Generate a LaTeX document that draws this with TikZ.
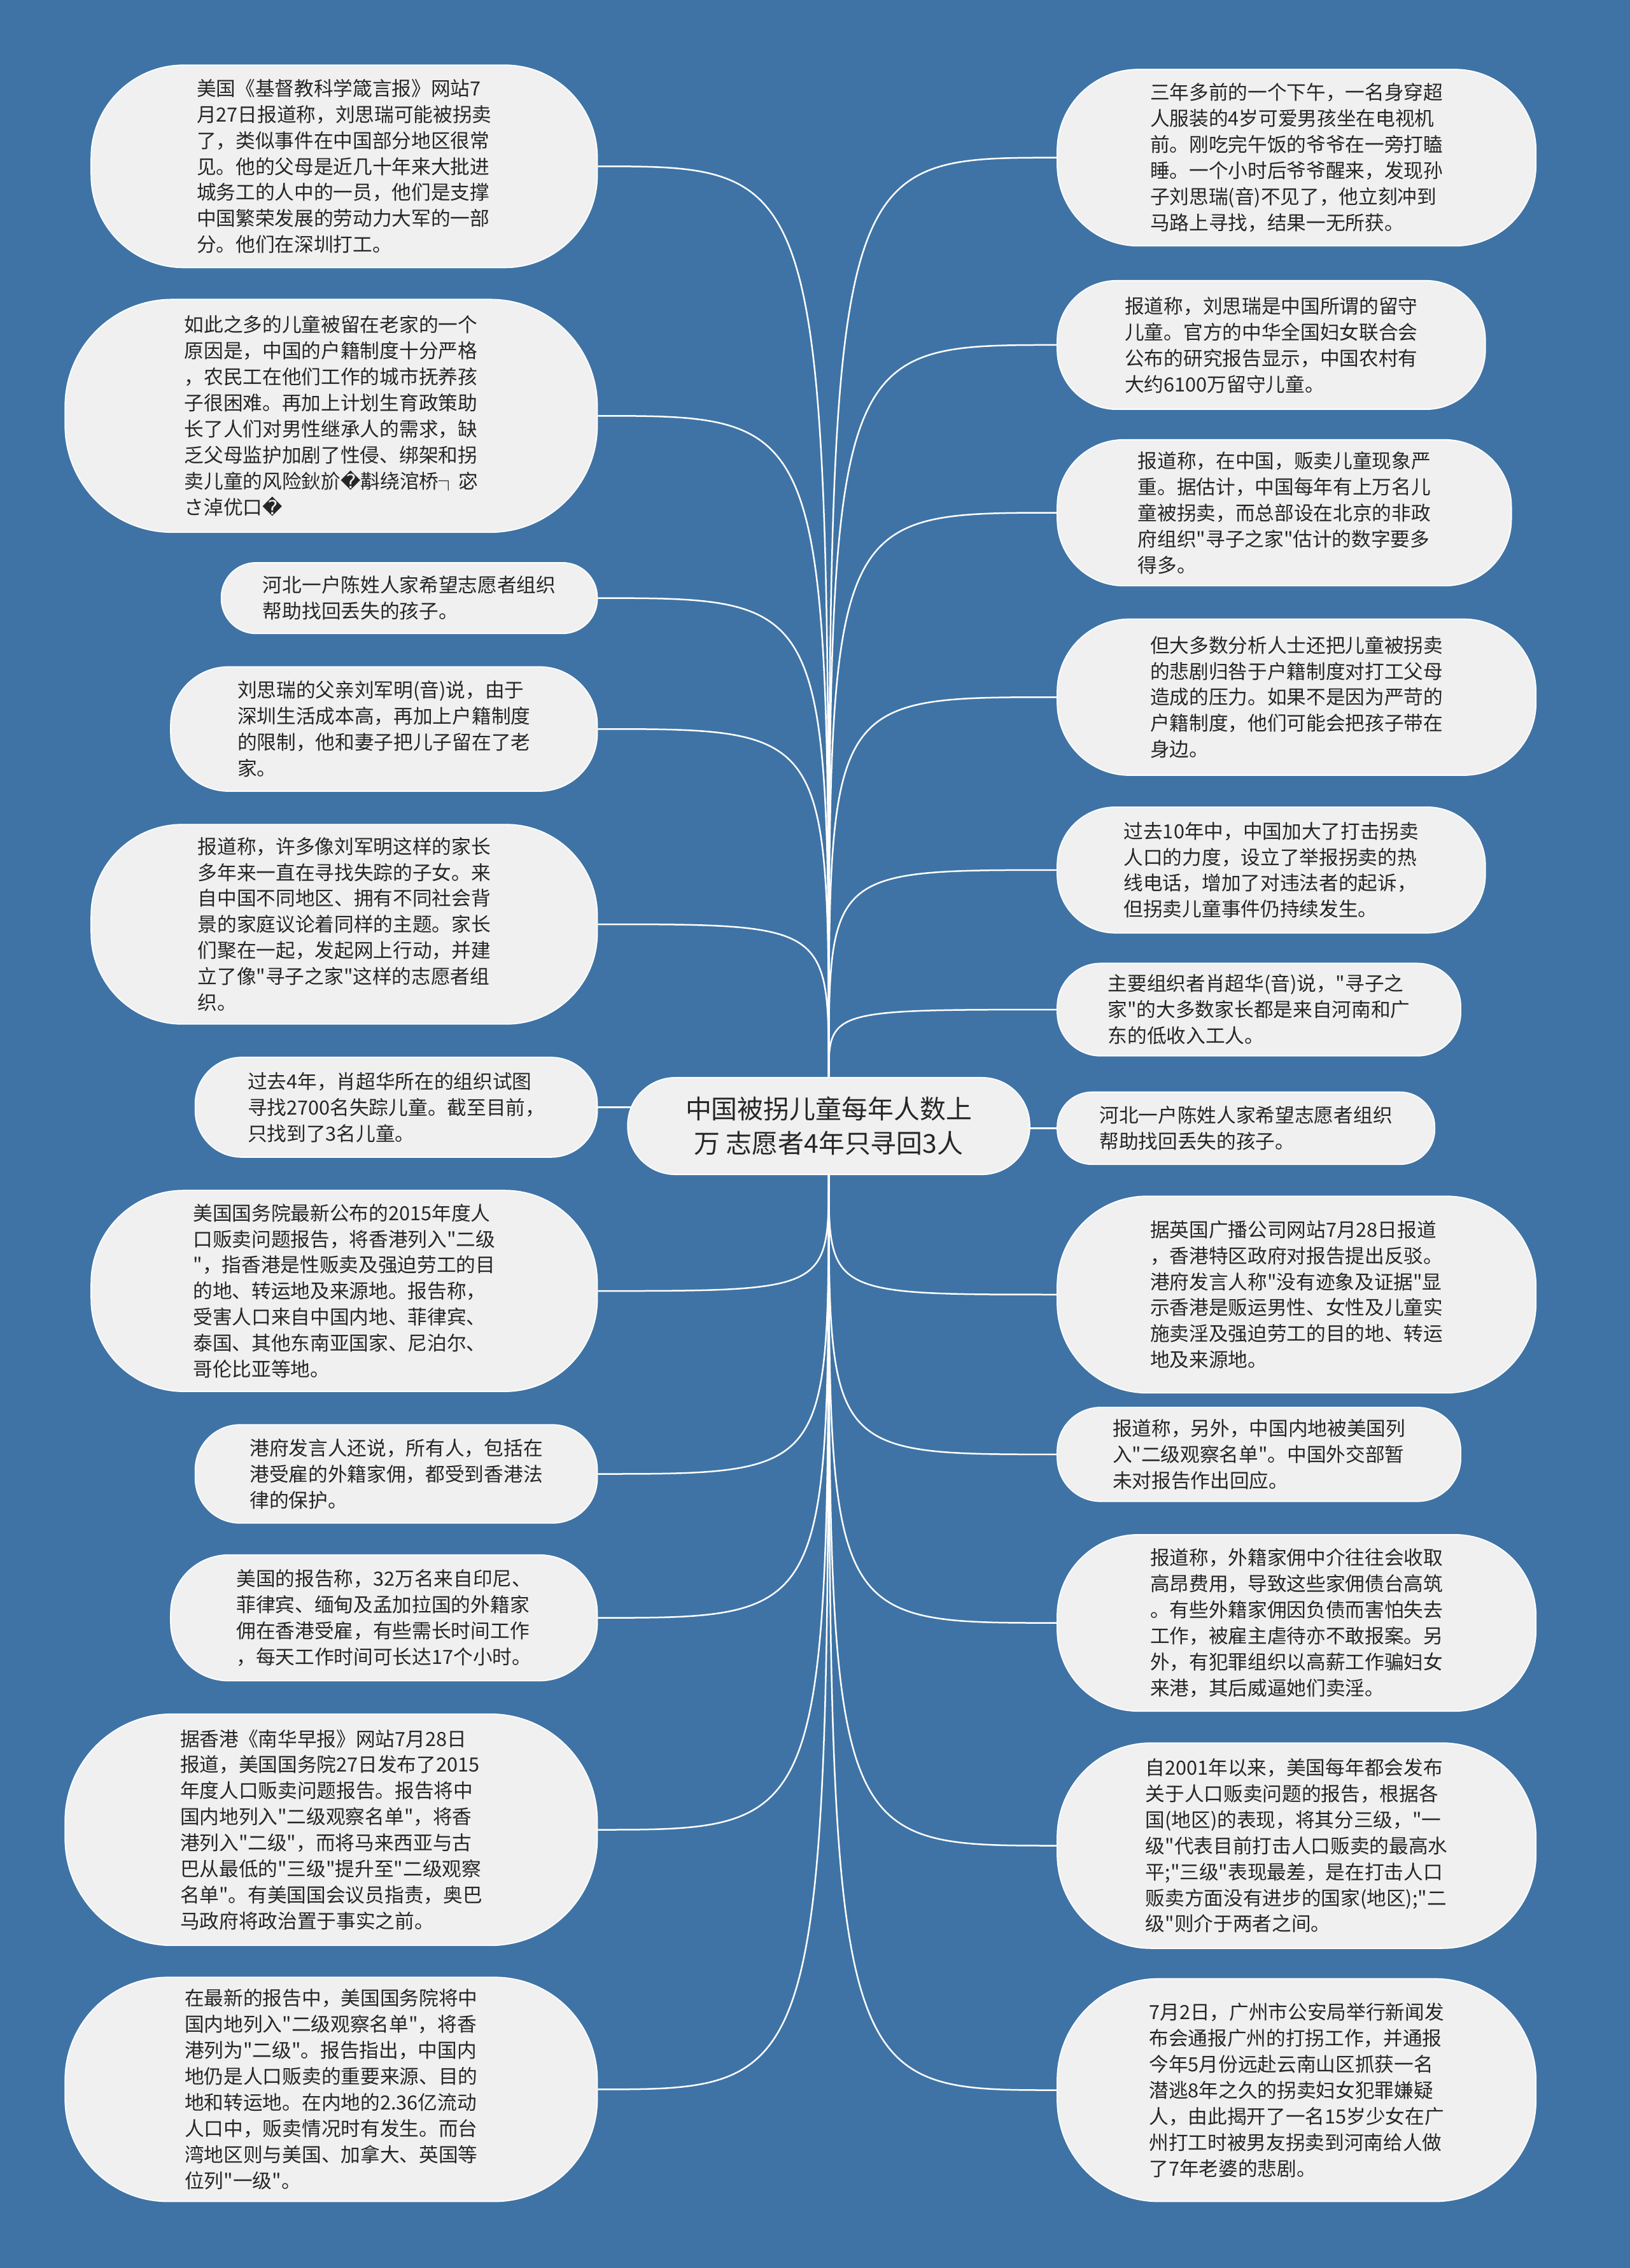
\documentclass[tikz,border=0pt]{standalone}
\usepackage{fontspec}
\newfontfamily\cjk{Noto Sans CJK SC}
\newfontfamily\dvs{DejaVu Sans}
\definecolor{mapBg}{RGB}{63,115,165}
\definecolor{mapLeaf}{RGB}{240,240,240}
\definecolor{mapInk}{RGB}{38,38,38}
\pgfdeclarelayer{back}
\pgfdeclarelayer{wires}
\pgfsetlayers{back,wires,main}

\begin{document}
\begin{tikzpicture}[x=1pt,y=-1pt,
  leaf/.style={rectangle,fill=mapLeaf,draw=white,line width=0.8pt,inner sep=0pt,align=left,text=mapInk,font=\cjk\fontsize{13.5}{18}\selectfont},
  hub/.style={leaf,align=center,font=\cjk\fontsize{18}{23.5}\selectfont},
  wire/.style={white,line width=1.1pt}]
% page: one unit = one pixel of the shrunk view
\begin{pgfonlayer}{back}
\fill[mapBg] (0,0) rectangle (1127,1568);
\end{pgfonlayer}
\useasboundingbox (0,0) rectangle (1127,1568);

% central topic
\node[hub,minimum width=278,minimum height=67,rounded corners=33] (hub) at (573,778.5) {中国被拐儿童每年人数上\\万 志愿者4年只寻回3人};

% left column
\node[leaf,minimum width=350,minimum height=140,rounded corners=64] (L1) at (238,115) {美国《基督教科学箴言报》网站7\\月27日报道称，刘思瑞可能被拐卖\\了，类似事件在中国部分地区很常\\见。他的父母是近几十年来大批进\\城务工的人中的一员，他们是支撑\\中国繁荣发展的劳动力大军的一部\\分。他们在深圳打工。};
\node[leaf,minimum width=368,minimum height=161,rounded corners=74] (L2) at (229,287.5) {如此之多的儿童被留在老家的一个\\原因是，中国的户籍制度十分严格\\，农民工在他们工作的城市抚养孩\\子很困难。再加上计划生育政策助\\长了人们对男性继承人的需求，缺\\乏父母监护加剧了性侵、绑架和拐\\卖儿童的风险鈥斺{\dvs �}斠绕涫桥┐宓\\さ淖优口{\dvs �}};
\node[leaf,minimum width=260,minimum height=49,rounded corners=24] (L3) at (283,413.5) {河北一户陈姓人家希望志愿者组织\\帮助找回丢失的孩子。};
\node[leaf,minimum width=295,minimum height=86,rounded corners=40] (L4) at (265.5,504) {刘思瑞的父亲刘军明(音)说，由于\\深圳生活成本高，再加上户籍制度\\的限制，他和妻子把儿子留在了老\\家。};
\node[leaf,minimum width=350,minimum height=138,rounded corners=63] (L5) at (238,639) {报道称，许多像刘军明这样的家长\\多年来一直在寻找失踪的子女。来\\自中国不同地区、拥有不同社会背\\景的家庭议论着同样的主题。家长\\们聚在一起，发起网上行动，并建\\立了像"寻子之家"这样的志愿者组\\织。};
\node[leaf,minimum width=278,minimum height=69,rounded corners=32] (L6) at (274,765.5) {过去4年，肖超华所在的组织试图\\寻找2700名失踪儿童。截至目前，\\只找到了3名儿童。};
\node[leaf,minimum width=350,minimum height=139,rounded corners=64] (L7) at (238,892.5) {美国国务院最新公布的2015年度人\\口贩卖问题报告，将香港列入"二级\\"，指香港是性贩卖及强迫劳工的目\\的地、转运地及来源地。报告称，\\受害人口来自中国内地、菲律宾、\\泰国、其他东南亚国家、尼泊尔、\\哥伦比亚等地。};
\node[leaf,minimum width=278,minimum height=68,rounded corners=31] (L8) at (274,1019) {港府发言人还说，所有人，包括在\\港受雇的外籍家佣，都受到香港法\\律的保护。};
\node[leaf,minimum width=295,minimum height=87,rounded corners=40] (L9) at (265.5,1118.5) {美国的报告称，32万名来自印尼、\\菲律宾、缅甸及孟加拉国的外籍家\\佣在香港受雇，有些需长时间工作\\，每天工作时间可长达17个小时。};
\node[leaf,minimum width=368,minimum height=160,rounded corners=74] (L10) at (229,1265) {据香港《南华早报》网站7月28日\\报道，美国国务院27日发布了2015\\年度人口贩卖问题报告。报告将中\\国内地列入"二级观察名单"，将香\\港列入"二级"，而将马来西亚与古\\巴从最低的"三级"提升至"二级观察\\名单"。有美国国会议员指责，奥巴\\马政府将政治置于事实之前。};
\node[leaf,minimum width=368,minimum height=155,rounded corners=71] (L11) at (229,1444.5) {在最新的报告中，美国国务院将中\\国内地列入"二级观察名单"，将香\\港列为"二级"。报告指出，中国内\\地仍是人口贩卖的重要来源、目的\\地和转运地。在内地的2.36亿流动\\人口中，贩卖情况时有发生。而台\\湾地区则与美国、加拿大、英国等\\位列"一级"。};

% right column
\node[leaf,minimum width=331,minimum height=122,rounded corners=56] (R1) at (896.5,109) {三年多前的一个下午，一名身穿超\\人服装的4岁可爱男孩坐在电视机\\前。刚吃完午饭的爷爷在一旁打瞌\\睡。一个小时后爷爷醒来，发现孙\\子刘思瑞(音)不见了，他立刻冲到\\马路上寻找，结果一无所获。};
\node[leaf,minimum width=296,minimum height=89,rounded corners=41] (R2) at (879,238.5) {报道称，刘思瑞是中国所谓的留守\\儿童。官方的中华全国妇女联合会\\公布的研究报告显示，中国农村有\\大约6100万留守儿童。};
\node[leaf,minimum width=314,minimum height=101,rounded corners=46] (R3) at (888,354.5) {报道称，在中国，贩卖儿童现象严\\重。据估计，中国每年有上万名儿\\童被拐卖，而总部设在北京的非政\\府组织"寻子之家"估计的数字要多\\得多。};
\node[leaf,minimum width=331,minimum height=108,rounded corners=50] (R4) at (896.5,482) {但大多数分析人士还把儿童被拐卖\\的悲剧归咎于户籍制度对打工父母\\造成的压力。如果不是因为严苛的\\户籍制度，他们可能会把孩子带在\\身边。};
\node[leaf,minimum width=296,minimum height=87,rounded corners=40] (R5) at (879,601.5) {过去10年中，中国加大了打击拐卖\\人口的力度，设立了举报拐卖的热\\线电话，增加了对违法者的起诉，\\但拐卖儿童事件仍持续发生。};
\node[leaf,minimum width=279,minimum height=64,rounded corners=30] (R6) at (870.5,698) {主要组织者肖超华(音)说，"寻子之\\家"的大多数家长都是来自河南和广\\东的低收入工人。};
\node[leaf,minimum width=261,minimum height=50,rounded corners=24] (R7) at (861.5,780) {河北一户陈姓人家希望志愿者组织\\帮助找回丢失的孩子。};
\node[leaf,minimum width=331,minimum height=136,rounded corners=62] (R8) at (896.5,895) {据英国广播公司网站7月28日报道\\，香港特区政府对报告提出反驳。\\港府发言人称"没有迹象及证据"显\\示香港是贩运男性、女性及儿童实\\施卖淫及强迫劳工的目的地、转运\\地及来源地。};
\node[leaf,minimum width=279,minimum height=65,rounded corners=30] (R9) at (870.5,1005.5) {报道称，另外，中国内地被美国列\\入"二级观察名单"。中国外交部暂\\未对报告作出回应。};
\node[leaf,minimum width=331,minimum height=122,rounded corners=56] (R10) at (896.5,1122) {报道称，外籍家佣中介往往会收取\\高昂费用，导致这些家佣债台高筑\\。有些外籍家佣因负债而害怕失去\\工作，被雇主虐待亦不敢报案。另\\外，有犯罪组织以高薪工作骗妇女\\来港，其后威逼她们卖淫。};
\node[leaf,minimum width=331,minimum height=142,rounded corners=65] (R11) at (896.5,1276) {自2001年以来，美国每年都会发布\\关于人口贩卖问题的报告，根据各\\国(地区)的表现，将其分三级，"一\\级"代表目前打击人口贩卖的最高水\\平;"三级"表现最差，是在打击人口\\贩卖方面没有进步的国家(地区);"二\\级"则介于两者之间。};
\node[leaf,minimum width=331,minimum height=154,rounded corners=70] (R12) at (896.5,1445) {7月2日，广州市公安局举行新闻发\\布会通报广州的打拐工作，并通报\\今年5月份远赴云南山区抓获一名\\潜逃8年之久的拐卖妇女犯罪嫌疑\\人，由此揭开了一名15岁少女在广\\州打工时被男友拐卖到河南给人做\\了7年老婆的悲剧。};

% branches, drawn under the bubbles
\begin{pgfonlayer}{wires}
\draw[wire] (hub.north) .. controls (hub.north |- L1.east) and (hub.north |- L1.east) .. (L1.east);
\draw[wire] (hub.north) .. controls (hub.north |- L2.east) and (hub.north |- L2.east) .. (L2.east);
\draw[wire] (hub.north) .. controls (hub.north |- L3.east) and (hub.north |- L3.east) .. (L3.east);
\draw[wire] (hub.north) .. controls (hub.north |- L4.east) and (hub.north |- L4.east) .. (L4.east);
\draw[wire] (hub.north) .. controls (hub.north |- L5.east) and (hub.north |- L5.east) .. (L5.east);
\draw[wire] (L6.east) -- (L6.east -| hub.center);
\draw[wire] (hub.south) .. controls (hub.south |- L7.east) and (hub.south |- L7.east) .. (L7.east);
\draw[wire] (hub.south) .. controls (hub.south |- L8.east) and (hub.south |- L8.east) .. (L8.east);
\draw[wire] (hub.south) .. controls (hub.south |- L9.east) and (hub.south |- L9.east) .. (L9.east);
\draw[wire] (hub.south) .. controls (hub.south |- L10.east) and (hub.south |- L10.east) .. (L10.east);
\draw[wire] (hub.south) .. controls (hub.south |- L11.east) and (hub.south |- L11.east) .. (L11.east);
\draw[wire] (hub.north) .. controls (hub.north |- R1.west) and (hub.north |- R1.west) .. (R1.west);
\draw[wire] (hub.north) .. controls (hub.north |- R2.west) and (hub.north |- R2.west) .. (R2.west);
\draw[wire] (hub.north) .. controls (hub.north |- R3.west) and (hub.north |- R3.west) .. (R3.west);
\draw[wire] (hub.north) .. controls (hub.north |- R4.west) and (hub.north |- R4.west) .. (R4.west);
\draw[wire] (hub.north) .. controls (hub.north |- R5.west) and (hub.north |- R5.west) .. (R5.west);
\draw[wire] (hub.north) .. controls (hub.north |- R6.west) and (hub.north |- R6.west) .. (R6.west);
\draw[wire] (R7.west) -- (R7.west -| hub.center);
\draw[wire] (hub.south) .. controls (hub.south |- R8.west) and (hub.south |- R8.west) .. (R8.west);
\draw[wire] (hub.south) .. controls (hub.south |- R9.west) and (hub.south |- R9.west) .. (R9.west);
\draw[wire] (hub.south) .. controls (hub.south |- R10.west) and (hub.south |- R10.west) .. (R10.west);
\draw[wire] (hub.south) .. controls (hub.south |- R11.west) and (hub.south |- R11.west) .. (R11.west);
\draw[wire] (hub.south) .. controls (hub.south |- R12.west) and (hub.south |- R12.west) .. (R12.west);
\end{pgfonlayer}
\end{tikzpicture}
\end{document}
